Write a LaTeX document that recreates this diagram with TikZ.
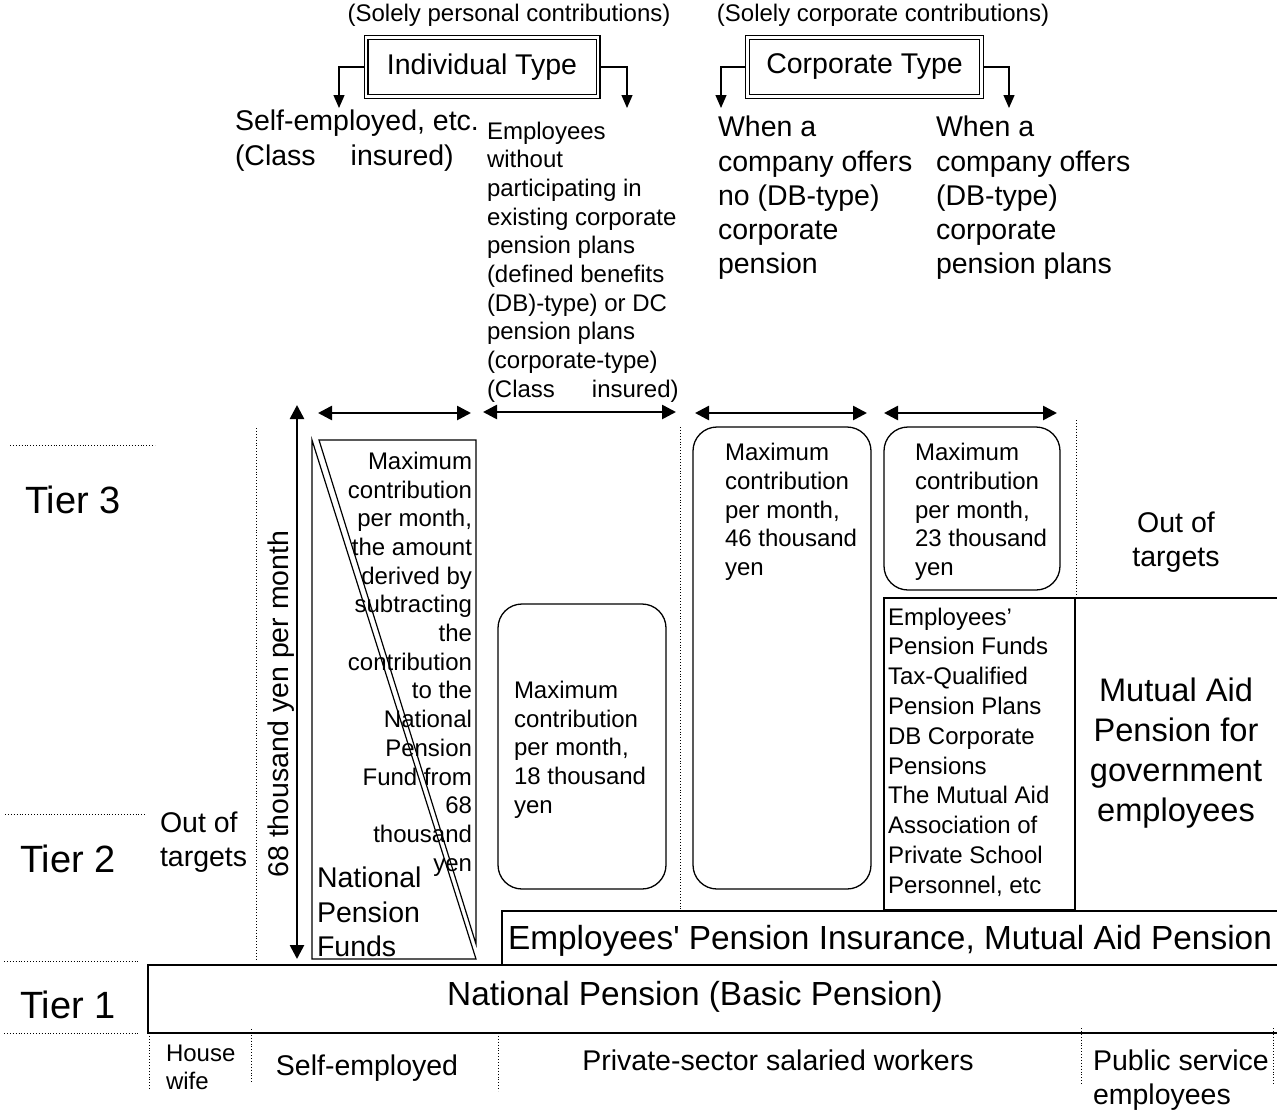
\documentclass[tikz,border=0pt]{standalone}
\usepackage{fontspec}
\setmainfont{Liberation Sans}
\newfontfamily\nomapfont{Liberation Sans}
\usetikzlibrary{arrows.meta}
\begin{document}
\begin{tikzpicture}[x=1pt,y=-1pt,
  every node/.style={inner sep=0pt,outer sep=0pt},
  fA/.style={font=\fontsize{24}{28.7}\selectfont},
  fB/.style={font=\fontsize{28.5}{34.3}\selectfont},
  fC/.style={font=\fontsize{33.4}{40}\selectfont},
  fT/.style={font=\fontsize{38}{44}\selectfont},
  dblbox/.style={draw,line width=1.2pt,double=white,double distance=2.6pt,fB},
  conn/.style={line width=1.3pt,-{Triangle[length=13pt,width=11pt]}},
  harrow/.style={line width=2.6pt,{Triangle[length=14pt,width=14pt]}-{Triangle[length=14pt,width=14pt]}},
  dotline/.style={line width=0.9pt,dotted},
  rbox/.style={draw,line width=1.3pt,rounded corners=24pt},
  thin/.style={line width=1.3pt},
  thick2/.style={line width=2.4pt}]
\useasboundingbox (0,0) rectangle (1277,1112);

% ---------- top headings ----------
\node[fA] (solP) at (509,15) {(Solely personal contributions)};
\node[fA] (solC) at (883,15) {(Solely corporate contributions)};
\node[dblbox,minimum width=232pt,minimum height=59pt] (indiv) at (482,67) {Individual Type};
\node[dblbox,minimum width=234pt,minimum height=59pt] (corp) at (864.5,67) {Corporate Type};

\coordinate (iL) at (339,108);
\coordinate (iR) at (627,108);
\coordinate (cL) at (721,108);
\coordinate (cR) at (1009,108);
\draw[conn,shorten <=2.5pt] (indiv.west) -| (iL);
\draw[conn,shorten <=2.5pt] (indiv.east) -| (iR);
\draw[conn,shorten <=2.5pt] (corp.west) -| (cL);
\draw[conn,shorten <=2.5pt] (corp.east) -| (cR);

\node[fB,align=left,anchor=west] (selfemp) at (235,140.5)
  {Self-employed, etc.\\(Class\hspace{35pt}insured)};
\node[fA,align=left,anchor=west] (employees) at (487,262)
  {Employees\\without\\participating in\\existing corporate\\pension plans\\(defined benefits\\(DB)-type) or DC\\pension plans\\(corporate-type)\\(Class\hspace{37pt}insured)};
\node[fB,align=left,anchor=west] (whenA) at (718,198)
  {When a\\company offers\\no (DB-type)\\corporate\\pension};
\node[fB,align=left,anchor=west] (whenB) at (936,198)
  {When a\\company offers\\(DB-type)\\corporate\\pension plans};

% ---------- tier guides ----------
\coordinate (t3a) at (10,445); \coordinate (t3b) at (155,445);
\coordinate (t2a) at (5,814);  \coordinate (t2b) at (147,814);
\coordinate (t1a) at (4,961);  \coordinate (t1b) at (138,961);
\coordinate (t0a) at (4,1033); \coordinate (t0b) at (138,1033);
\draw[dotline] (t3a) -- (t3b);
\draw[dotline] (t2a) -- (t2b);
\draw[dotline] (t1a) -- (t1b);
\draw[dotline] (t0a) -- (t0b);
\node[fT] (tier3) at (73,500) {Tier 3};
\node[fT] (tier2) at (68,859) {Tier 2};
\node[fT] (tier1) at (68,1005) {Tier 1};

% ---------- horizontal range arrows ----------
\coordinate (ha1) at (318,413); \coordinate (hb1) at (471,413);
\coordinate (ha2) at (483,412); \coordinate (hb2) at (676,412);
\coordinate (ha3) at (695,413); \coordinate (hb3) at (867,413);
\coordinate (ha4) at (884,413); \coordinate (hb4) at (1057,413);
\draw[harrow] (ha1) -- (hb1);
\draw[harrow] (ha2) -- (hb2);
\draw[harrow] (ha3) -- (hb3);
\draw[harrow] (ha4) -- (hb4);

% ---------- vertical arrow ----------
\coordinate (va) at (297,959); \coordinate (vb) at (297,405);
\draw[harrow] (va) -- (vb);
\node[fB,rotate=90] (yen68) at (281,704) {68 thousand yen per month};

% ---------- dotted separators ----------
\coordinate (d1a) at (256,428); \coordinate (d1b) at (256,959);
\coordinate (d2a) at (680,427); \coordinate (d2b) at (680,911);
\coordinate (d3a) at (1076,420); \coordinate (d3b) at (1076,598);
\draw[dotline] (d1a) -- (d1b);
\draw[dotline] (d2a) -- (d2b);
\draw[dotline] (d3a) -- (d3b);
\node[fB,align=left,anchor=west] (outL) at (160,842) {Out of\\targets};

% ---------- National Pension Funds split box ----------
\draw[line width=1.2pt] (312,440) -- (312,959) -- (476,959) -- cycle;
\draw[line width=1.2pt] (319,440) -- (476,440) -- (476,944) -- cycle;
\node[fA,align=right,anchor=east] (npfmax) at (472,664)
  {Maximum\\contribution\\per month,\\the amount\\derived by\\subtracting\\the\\contribution\\to the\\National\\Pension\\Fund from\\68\\thousand\\yen};
\node[fB,align=left,anchor=west] (npf) at (317,912) {National\\Pension\\Funds};

% ---------- DC boxes ----------
\node[rbox,minimum width=168pt,minimum height=285pt] (dc18) at (582,746.5) {};
\node[fA,align=left,anchor=west] (t18) at (514,749.5)
  {Maximum\\contribution\\per month,\\18 thousand\\yen};
\node[rbox,minimum width=178pt,minimum height=462pt] (dc46) at (782,658) {};
\node[fA,align=left,anchor=west] (t46) at (725,512)
  {Maximum\\contribution\\per month,\\46 thousand\\yen};
\node[rbox,minimum width=176pt,minimum height=163pt] (dc23) at (972,508.5) {};
\node[fA,align=left,anchor=west] (t23) at (915,512)
  {Maximum\\contribution\\per month,\\23 thousand\\yen};
\node[fB,align=center] (outR) at (1176,542) {Out of\\targets};

% ---------- Tier 2 right blocks ----------
\node[draw,thin,minimum width=191pt,minimum height=312pt] (epf) at (979.5,754) {};
\draw[thin] (epf.north east) -- (1277,598);
\node[font=\fontsize{24}{29.8}\selectfont,align=left,anchor=west] (epft) at (888,752)
  {Employees’\\Pension Funds\\Tax-Qualified\\Pension Plans\\DB Corporate\\Pensions\\The Mutual Aid\\Association of\\Private School\\Personnel, etc};
\node[font=\fontsize{32.6}{40}\selectfont,align=center] (mutual) at (1176,753)
  {Mutual Aid\\Pension for\\government\\employees};

% ---------- Employees' Pension Insurance ----------
\coordinate (epiA) at (1277,911); \coordinate (epiB) at (502,911);
\coordinate (epiC) at (502,965); \coordinate (epiD) at (1277,965);
\draw[thick2] (epiA) -- (epiB) -- (epiC) -- (epiD);
\node[fC] (epi) at (890,941) {Employees{\nomapfont '} Pension Insurance, Mutual Aid Pension};

% ---------- National Pension ----------
\coordinate (npA) at (1277,965); \coordinate (npB) at (148,965);
\coordinate (npC) at (148,1033); \coordinate (npD) at (1277,1033);
\draw[thick2] (npA) -- (npB) -- (npC) -- (npD);
\node[fC] (np) at (695,997) {National Pension (Basic Pension)};

% ---------- bottom categories ----------
\coordinate (b1a) at (149,1033); \coordinate (b1b) at (149,1090);
\coordinate (b2a) at (251,1029); \coordinate (b2b) at (251,1084);
\coordinate (b3a) at (498,1033); \coordinate (b3b) at (498,1091);
\coordinate (b4a) at (1081,1028); \coordinate (b4b) at (1081,1085);
\coordinate (b5a) at (1273,1028); \coordinate (b5b) at (1273,1085);
\draw[dotline] (b1a) -- (b1b);
\draw[dotline] (b2a) -- (b2b);
\draw[dotline] (b3a) -- (b3b);
\draw[dotline] (b4a) -- (b4b);
\draw[dotline] (b5a) -- (b5b);
\node[font=\fontsize{24}{28}\selectfont,align=left,anchor=west] (wife) at (166,1067.5) {House\\wife};
\node[fB] (selfb) at (367,1068) {Self-employed};
\node[fB] (priv) at (778,1060) {Private-sector salaried workers};
\node[fB,align=left,anchor=west] (pub) at (1093,1080) {Public service\\employees};
\end{tikzpicture}
\end{document}
